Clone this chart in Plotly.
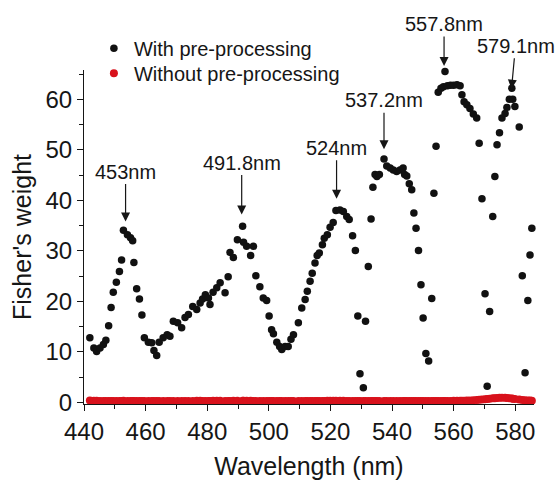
import plotly.graph_objects as go

wavelength = [441.9, 443.2, 444.1, 445.2, 446.3, 447.1, 448.0, 448.8, 449.5, 450.5,
              451.5, 452.2, 452.8, 454.1, 455.1, 455.8, 456.2, 457.1, 458.0, 458.8,
              459.6, 460.9, 462.0, 462.7, 463.6, 464.4, 465.7, 467.0, 467.9, 469.0,
              470.4, 471.7, 472.8, 473.9, 475.3, 476.6, 477.7, 478.5, 479.4, 480.4,
              480.9, 481.9, 483.1, 484.2, 485.8, 486.8, 487.4, 488.5, 489.8, 491.5,
              491.8, 492.8, 494.1, 495.0, 495.8, 497.1, 498.2, 499.3, 500.1, 500.9,
              501.5, 502.6, 503.5, 504.2, 505.3, 506.3, 507.2, 508.0, 509.6, 510.7,
              511.8, 512.5, 513.4, 514.1, 515.0, 515.7, 516.4, 517.4, 518.0, 519.0,
              519.9, 520.9, 521.8, 523.1, 524.2, 525.3, 526.1, 527.2, 528.1, 528.9,
              529.6, 530.7, 531.4, 532.3, 533.2, 533.8, 534.5, 535.1, 535.9, 537.4,
              538.3, 539.4, 540.4, 541.5, 542.6, 543.6, 544.1, 544.8, 545.6, 546.4,
              547.1, 547.8, 548.6, 549.4, 550.1, 551.0, 551.9, 552.9, 553.6, 554.3,
              555.0, 555.9, 556.7, 557.2, 558.0, 559.0, 560.0, 561.1, 562.1, 562.7,
              563.4, 564.3, 565.3, 566.4, 567.5, 568.3, 569.2, 570.2, 570.9, 571.7,
              572.7, 573.4, 574.1, 574.9, 575.7, 576.7, 577.3, 578.1, 578.9, 579.2,
              579.9, 581.3, 582.3, 583.2, 584.1, 584.8, 585.4]

with_pp = [12.8, 10.8, 10.1, 10.8, 11.5, 12.3, 15.2, 18.8, 21.8, 23.8,
           25.9, 28.2, 34.1, 33.2, 32.6, 32.0, 27.7, 22.5, 20.5, 17.3,
           12.8, 11.9, 11.8, 10.3, 9.3, 11.9, 12.8, 13.4, 13.1, 16.1,
           15.8, 14.8, 16.8, 17.4, 19.0, 18.4, 19.7, 20.5, 21.3, 20.7,
           19.4, 21.8, 22.7, 23.7, 21.7, 24.9, 29.7, 28.7, 32.2, 34.9,
           31.7, 30.9, 29.1, 30.9, 25.1, 22.9, 20.7, 20.2, 17.1, 14.4,
           13.6, 11.9, 11.1, 10.5, 11.1, 11.1, 12.5, 13.4, 15.8, 18.7,
           20.4, 22.0, 24.0, 25.6, 27.6, 29.1, 29.6, 31.2, 32.5, 33.2,
           34.7, 35.6, 38.0, 38.1, 37.8, 36.8, 36.2, 33.0, 30.1, 17.1,
           5.7, 2.9, 16.1, 26.9, 36.3, 42.6, 45.1, 44.7, 45.1, 48.2,
           46.8, 46.4, 46.0, 45.7, 46.0, 46.4, 45.1, 44.8, 43.3, 42.1,
           37.5, 34.5, 30.1, 23.3, 16.7, 9.7, 8.2, 20.6, 41.4, 50.7,
           61.4, 62.2, 62.5, 65.5, 62.7, 62.8, 62.8, 62.9, 62.7, 60.9,
           59.5, 58.9, 58.2, 57.1, 56.3, 51.3, 40.3, 21.5, 3.2, 18.0,
           36.8, 44.7, 51.0, 53.4, 56.3, 57.2, 58.4, 60.0, 62.2, 60.0,
           58.6, 54.5, 25.1, 5.9, 20.2, 29.2, 34.5]

without_pp = [0.40, 0.35, 0.32, 0.30, 0.30, 0.30, 0.31, 0.30, 0.29, 0.30,
              0.30, 0.31, 0.32, 0.31, 0.30, 0.30, 0.29, 0.29, 0.30, 0.30,
              0.29, 0.28, 0.28, 0.29, 0.29, 0.30, 0.30, 0.30, 0.31, 0.31,
              0.31, 0.30, 0.30, 0.31, 0.31, 0.32, 0.32, 0.31, 0.31, 0.31,
              0.31, 0.32, 0.32, 0.32, 0.31, 0.31, 0.31, 0.32, 0.32, 0.33,
              0.33, 0.32, 0.32, 0.31, 0.31, 0.30, 0.30, 0.30, 0.29, 0.29,
              0.29, 0.28, 0.28, 0.28, 0.28, 0.28, 0.29, 0.29, 0.29, 0.30,
              0.30, 0.30, 0.30, 0.31, 0.31, 0.31, 0.31, 0.31, 0.31, 0.32,
              0.32, 0.32, 0.32, 0.32, 0.32, 0.31, 0.31, 0.31, 0.30, 0.30,
              0.29, 0.29, 0.29, 0.29, 0.30, 0.30, 0.30, 0.30, 0.31, 0.31,
              0.31, 0.31, 0.31, 0.30, 0.30, 0.30, 0.30, 0.29, 0.29, 0.29,
              0.28, 0.28, 0.28, 0.28, 0.28, 0.28, 0.28, 0.29, 0.29, 0.29,
              0.30, 0.30, 0.30, 0.31, 0.31, 0.31, 0.32, 0.32, 0.33, 0.34,
              0.35, 0.37, 0.40, 0.44, 0.48, 0.52, 0.58, 0.64, 0.70, 0.76,
              0.82, 0.86, 0.90, 0.92, 0.93, 0.92, 0.90, 0.86, 0.80, 0.76,
              0.70, 0.58, 0.50, 0.44, 0.40, 0.38, 0.36]

peak_labels = ["453nm", "491.8nm", "524nm", "537.2nm", "557.8nm", "579.1nm"]
peak_x = [453.5, 491.2, 522.0, 537.4, 556.9, 578.8]
peak_y = [35.8, 37.2, 40.3, 50.1, 66.6, 62.1]
label_dx = [0, 0, 0, 0, 0, 4]
label_dy = [-50, -52, -51, -49, -42, -43]

FONT = "Liberation Sans, Arial, sans-serif"
INK = "#161616"
Y_MIN, Y_MAX = -0.3, 65.8

fig = go.Figure()
fig.add_trace(go.Scatter(
    x=wavelength, y=with_pp, mode="markers", name="With pre-processing",
    marker=dict(color="#111111", size=7.5), cliponaxis=False, legend="legend"))
fig.add_trace(go.Scatter(
    x=wavelength, y=without_pp, mode="markers", name="Without pre-processing",
    marker=dict(color="#d8121c", size=8), cliponaxis=False, legend="legend2"))

for t, px, py, dx, dy in zip(peak_labels, peak_x, peak_y, label_dx, label_dy):
    if py > Y_MAX:
        # tip above the top of the axis range: place it in paper units
        yref, yv = "paper", (py - Y_MIN) / (Y_MAX - Y_MIN)
    else:
        yref, yv = "y", py
    fig.add_annotation(x=px, y=yv, yref=yref, text=t, showarrow=True, ax=dx, ay=dy,
                       arrowhead=2, arrowsize=1.5, arrowwidth=1.2,
                       arrowcolor=INK, font=dict(family=FONT, size=20, color=INK))

leg_common = dict(xanchor="left", yanchor="middle",
                  font=dict(family=FONT, size=20, color=INK),
                  bgcolor="rgba(0,0,0,0)", borderwidth=0)

fig.update_layout(
    width=558, height=480,
    margin=dict(l=84, r=24, t=70, b=76, autoexpand=False),
    paper_bgcolor="white", plot_bgcolor="white",
    font=dict(family=FONT, color=INK),
    showlegend=True,
    legend=dict(x=0.022, y=1.065, **leg_common),
    legend2=dict(x=0.022, y=0.990, **leg_common),
    xaxis=dict(range=[440, 586.1], tick0=440, dtick=20, automargin=False,
               ticks="outside", ticklen=6, tickwidth=1, tickcolor=INK,
               minor=dict(dtick=10, ticklen=4, tickwidth=1, tickcolor=INK, ticks="outside"),
               showline=True, linecolor=INK, linewidth=1,
               showgrid=False, zeroline=False,
               tickfont=dict(family=FONT, size=24, color=INK),
               title=dict(text="Wavelength (nm)", standoff=15,
                          font=dict(family=FONT, size=25, color=INK))),
    yaxis=dict(range=[Y_MIN, Y_MAX], tick0=0, dtick=10, automargin=False,
               ticks="outside", ticklen=6, tickwidth=1, tickcolor=INK,
               minor=dict(dtick=5, ticklen=4, tickwidth=1, tickcolor=INK, ticks="outside"),
               showline=True, linecolor=INK, linewidth=1,
               showgrid=False, zeroline=False,
               tickfont=dict(family=FONT, size=24, color=INK),
               title=dict(text="Fisher's weight", standoff=6,
                          font=dict(family=FONT, size=25, color=INK))),
)

fig.write_html("out.html")
